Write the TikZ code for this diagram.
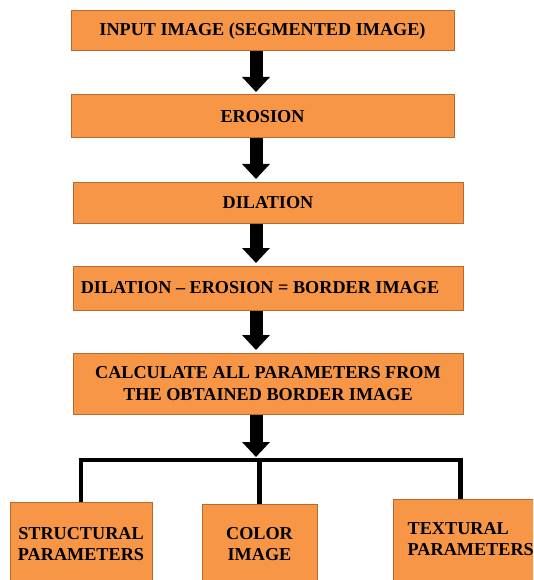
\documentclass[tikz,border=0pt]{standalone}
\usepackage{fontspec}
\setmainfont{Liberation Serif}
\usetikzlibrary{arrows.meta,positioning}
\definecolor{boxfill}{HTML}{F79646}
\definecolor{boxline}{HTML}{B86A2E}
\tikzset{
  stage/.style={draw=boxline, fill=boxfill, line width=1pt, inner sep=0pt,
    align=center, font=\fontsize{18.2}{22}\selectfont\bfseries},
  leaf/.style={draw=boxline, fill=boxfill, line width=1pt, inner sep=0pt},
  leaflabel/.style={inner sep=0pt, font=\fontsize{18.2}{21}\selectfont\bfseries},
  blockarrow/.style={line width=13pt, -{Triangle[width=27pt,length=15pt]}, shorten >=2.5pt},
  branch/.style={line width=4.5pt}
}
\begin{document}
\begin{tikzpicture}[x=1pt,y=-1pt]
\useasboundingbox (0,0) rectangle (533,580);
\clip (0,0) rectangle (533,580);
% main stages
\node[stage, minimum width=383pt, minimum height=40pt] (input) at (262.5,31) {INPUT IMAGE (SEGMENTED IMAGE)};
\node[stage, minimum width=383pt, minimum height=43pt] (erosion) at (262.5,116.5) {EROSION};
\node[stage, minimum width=390pt, minimum height=41pt] (dilation) at (268,202.5) {DILATION};
\node[stage, minimum width=390pt, minimum height=44pt] (border) at (268,288) {DILATION -- EROSION = BORDER IMAGE\hspace{16pt}};
\node[stage, minimum width=390pt, minimum height=61pt] (calc) at (268,383.5) {CALCULATE ALL PARAMETERS FROM\\THE OBTAINED BORDER IMAGE};
% result boxes
\node[leaf, minimum width=142pt, minimum height=138pt] (struct) at (81,571) {};
\node[leaf, minimum width=115pt, minimum height=136pt] (colour) at (259.5,572) {};
\node[leaf, minimum width=167pt, minimum height=142pt] (textural) at (476.5,570) {};
\node[leaflabel, align=center, below=25.5pt of struct.north] (structtext) {STRUCTURAL\\PARAMETERS};
\node[leaflabel, align=center, below=23.5pt of colour.north] (colourtext) {COLOR\\IMAGE};
\node[leaflabel, align=left, anchor=north west, below right=24pt and 15pt of textural.north west] (texturaltext) {TEXTURAL\\PARAMETERS};
% arrows
\coordinate (axis) at (256,0);
\coordinate (split) at (259.5,460);
\coordinate (rightdrop) at (460.5,499);
\draw[blockarrow] (input.south -| axis) -- (erosion.north -| axis);
\draw[blockarrow] (erosion.south -| axis) -- (dilation.north -| axis);
\draw[blockarrow] (dilation.south -| axis) -- (border.north -| axis);
\draw[blockarrow] (border.south -| axis) -- (calc.north -| axis);
\draw[blockarrow, shorten >=3pt] (calc.south -| axis) -- (split -| axis);
\draw[branch] (struct.north) |- (split) -| (rightdrop);
\draw[branch] (split) -- (colour.north);
\end{tikzpicture}
\end{document}
